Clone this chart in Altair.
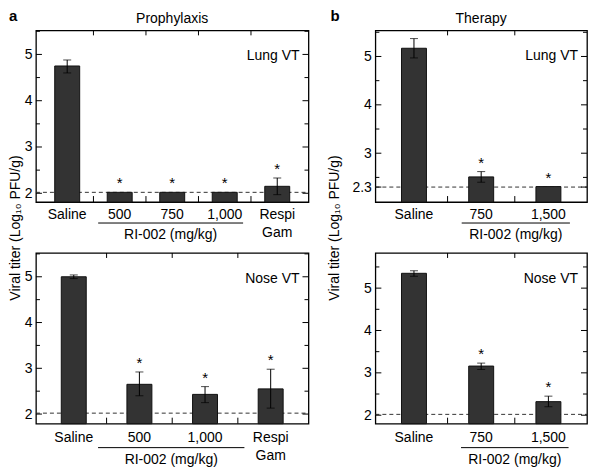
import altair as alt
import pandas as pd

FONT = "Liberation Sans"

# ---- a: Prophylaxis, lung ----
tl_cats = ["Saline", "500", "750", "1,000", "Respi|Gam"]
tl_vals = [4.75, 2.02, 2.02, 2.02, 2.15]
tl_lo = [4.60, None, None, None, 1.97]
tl_hi = [4.88, None, None, None, 2.33]
tl_star = [False, True, True, True, True]
tl_limit = 2.02
tl_span = [1.09, 3.85]

# ---- b: Therapy, lung ----
tr_cats = ["Saline", "750", "1,500"]
tr_vals = [5.17, 2.51, 2.31]
tr_lo = [4.97, 2.40, None]
tr_hi = [5.37, 2.62, None]
tr_star = [False, True, True]
tr_limit = 2.30
tr_span = [1.21, 2.82]

# ---- a: Prophylaxis, nose ----
bl_cats = ["Saline", "500", "1,000", "Respi|Gam"]
bl_vals = [5.00, 2.65, 2.43, 2.55]
bl_lo = [4.96, 2.40, 2.25, 2.13]
bl_hi = [5.04, 2.92, 2.60, 2.98]
bl_star = [False, True, True, True]
bl_limit = 2.02
bl_span = [0.87, 3.10]

# ---- b: Therapy, nose ----
br_cats = ["Saline", "750", "1,500"]
br_vals = [5.35, 3.16, 2.32]
br_lo = [5.28, 3.08, 2.20]
br_hi = [5.41, 3.23, 2.45]
br_star = [False, True, True]
br_limit = 2.02
br_span = [1.20, 2.80]

y_major_std = [2, 3, 4, 5]
y_major_tr = [2.3, 3, 4, 5]
y_minor = [2.5, 3.5, 4.5, 5.5]
group_text = "RI-002 (mg/kg)"
y_title = "Viral titer (Log\u2081\u2080 PFU/g)"


def panel(cats, vals, lo, hi, star, limit, span, W, H, ydom, ymajor, organ,
          label_dy, line_dy, group_dy, title=None, letter=None, letter_x=-27,
          ytitle_x=None, ytitle_y=-25):
    n = len(cats)
    df = pd.DataFrame({"cat": cats, "pos": [i + 0.5 for i in range(n)],
                       "val": vals, "lo": lo, "hi": hi, "star": star})
    df["top"] = df["hi"].fillna(df["val"])
    xs = alt.Scale(domain=[0, n], nice=False, zero=False)
    ys = alt.Scale(domain=ydom, nice=False, zero=False)
    yax = alt.Axis(values=ymajor, format=".2~g", ticks=False, domain=False, grid=False,
                   labelPadding=4, title=None, labelFontSize=14, labelColor="black")
    X = alt.X("pos:Q", scale=xs, axis=None)
    base = alt.Chart(df)

    def Y(f):
        return alt.Y(f, scale=ys, axis=yax)

    layers = []
    ldf = pd.DataFrame({"lim": [limit]})
    layers.append(alt.Chart(ldf).mark_rule(strokeDash=[4, 3], color="#333333", strokeWidth=1).encode(
        y=Y("lim:Q"), x=alt.value(0), x2=alt.value(W)))
    layers.append(base.mark_bar(size=25, color="#333333", stroke="#111111", strokeWidth=1).encode(
        x=X, y=Y("val:Q"), y2=alt.datum(ydom[0])))
    err = base.transform_filter("isValid(datum.lo)")
    layers.append(err.mark_rule(color="black", strokeWidth=1).encode(
        x=X, y=Y("lo:Q"), y2="hi:Q"))
    layers.append(err.mark_tick(orient="horizontal", size=8, thickness=1, color="black").encode(
        x=X, y=Y("hi:Q")))
    layers.append(err.mark_tick(orient="horizontal", size=8, thickness=1, color="black").encode(
        x=X, y=Y("lo:Q")))
    layers.append(base.transform_filter("datum.star").mark_text(
        text="*", fontSize=15, dy=-4, baseline="alphabetic", color="black").encode(
        x=X, y=Y("top:Q")))
    layers.append(base.mark_text(lineBreak="|", lineHeight=18, fontSize=14, baseline="alphabetic",
                                 color="black").encode(
        x=X, y=alt.value(H + label_dy), text="cat:N"))

    gdf = pd.DataFrame({"g0": [span[0]], "g1": [span[1]], "gm": [(span[0] + span[1]) / 2],
                        "gt": [group_text]})
    layers.append(alt.Chart(gdf).mark_rule(color="black", strokeWidth=1).encode(
        x=alt.X("g0:Q", scale=xs, axis=None), x2="g1:Q", y=alt.value(H + line_dy)))
    layers.append(alt.Chart(gdf).mark_text(fontSize=14, baseline="alphabetic", color="black").encode(
        x=alt.X("gm:Q", scale=xs, axis=None), y=alt.value(H + group_dy), text="gt:N"))

    mj = pd.DataFrame({"v": ymajor})
    mn = pd.DataFrame({"v": y_minor})
    for d, ln in ((mj, 6), (mn, 4)):
        layers.append(alt.Chart(d).mark_rule(color="black", strokeWidth=1).encode(
            y=Y("v:Q"), x=alt.value(0), x2=alt.value(ln)))
        layers.append(alt.Chart(d).mark_rule(color="black", strokeWidth=1).encode(
            y=Y("v:Q"), x=alt.value(W - ln), x2=alt.value(W)))
    bd = pd.DataFrame({"b": list(range(1, n))})
    layers.append(alt.Chart(bd).mark_rule(color="black", strokeWidth=1).encode(
        x=alt.X("b:Q", scale=xs, axis=None), y=alt.value(0), y2=alt.value(5)))
    layers.append(alt.Chart(bd).mark_rule(color="black", strokeWidth=1).encode(
        x=alt.X("b:Q", scale=xs, axis=None), y=alt.value(H - 6), y2=alt.value(H)))

    odf = pd.DataFrame({"t": [organ]})
    layers.append(alt.Chart(odf).mark_text(align="right", baseline="middle", fontSize=14,
                                           color="black").encode(
        text="t:N", x=alt.value(W - 9), y=alt.value(26)))
    if title:
        layers.append(alt.Chart(pd.DataFrame({"t": [title]})).mark_text(
            align="center", baseline="alphabetic", fontSize=14, color="black").encode(
            text="t:N", x=alt.value(W / 2), y=alt.value(-7)))
    if letter:
        layers.append(alt.Chart(pd.DataFrame({"t": [letter]})).mark_text(
            align="left", baseline="top", fontSize=15, fontWeight="bold", color="black").encode(
            text="t:N", x=alt.value(letter_x), y=alt.value(-21)))
    if ytitle_x is not None:
        layers.append(alt.Chart(pd.DataFrame({"t": [y_title]})).mark_text(
            align="center", baseline="middle", angle=270, fontSize=14, color="black").encode(
            text="t:N", x=alt.value(ytitle_x), y=alt.value(ytitle_y)))

    return alt.layer(*layers).properties(width=W, height=H)


tl = panel(tl_cats, tl_vals, tl_lo, tl_hi, tl_star, tl_limit, tl_span, 273, 172, [1.81, 5.52],
           y_major_std, "Lung VT", 17, 21, 37, title="Prophylaxis", letter="a")
tr = panel(tr_cats, tr_vals, tr_lo, tr_hi, tr_star, tr_limit, tr_span, 212, 172, [1.99, 5.54],
           y_major_tr, "Lung VT", 17, 21, 37, title="Therapy", letter="b", letter_x=-45)
bl = panel(bl_cats, bl_vals, bl_lo, bl_hi, bl_star, bl_limit, bl_span, 273, 171, [1.79, 5.52],
           y_major_std, "Nose VT", 18, 24, 40, ytitle_x=-20)
br = panel(br_cats, br_vals, br_lo, br_hi, br_star, br_limit, br_span, 212, 171, [1.80, 5.83],
           y_major_std, "Nose VT", 18, 24, 40, ytitle_x=-40)

chart = alt.concat(tl, tr, bl, br, columns=2, spacing={"row": 51, "column": 67},
                   bounds="flush").properties(padding=0).configure(
    font=FONT).configure_view(stroke="black", strokeWidth=1.3)

chart.save("out.html", embed_options={"renderer": "svg", "actions": False})
